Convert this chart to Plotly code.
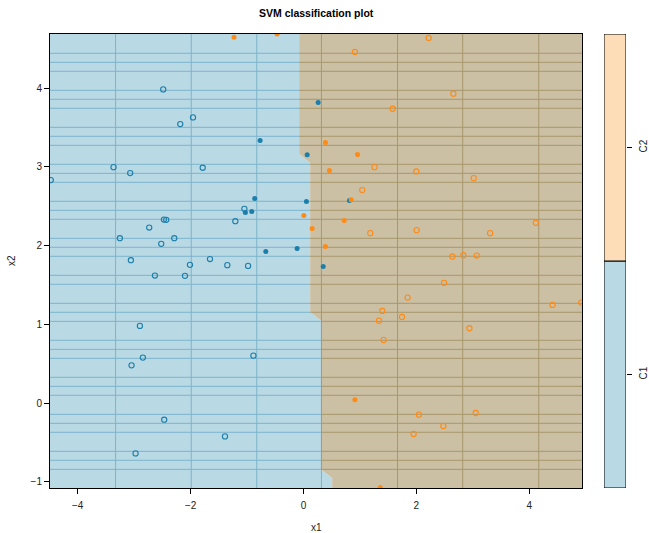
import numpy as np
import plotly.graph_objects as go

# ---- data -------------------------------------------------------------
# class C1: ordinary points and support vectors
c1_x = [-2.485, -1.957, -2.183, -3.365, -1.785, -3.070, -4.477, -1.047, -1.207,
        -2.472, -2.431, -2.733, -3.253, -2.289, -2.520, -3.058, -1.656, -2.011,
        -1.349, -0.981, -2.632, -2.099, -2.898, -2.845, -3.046, -0.887, -2.467,
        -1.390, -2.975]
c1_y = [3.986, 3.630, 3.545, 2.998, 2.990, 2.922, 2.833, 2.468, 2.311,
        2.332, 2.328, 2.230, 2.095, 2.095, 2.023, 1.815, 1.830, 1.756,
        1.752, 1.743, 1.620, 1.616, 0.980, 0.577, 0.479, 0.602, -0.212,
        -0.424, -0.640]
c1_sv_x = [0.261, -0.768, 0.066, -0.863, 0.053, -1.029, -0.916, -0.667, -0.112,
           0.816, 0.350]
c1_sv_y = [3.821, 3.337, 3.155, 2.599, 2.561, 2.421, 2.434, 1.925, 1.963,
           2.574, 1.734]

# class C2: ordinary points and support vectors
c2_x = [2.219, 0.912, 2.657, 1.580, 1.260, 2.000, 3.017, 1.042, 1.184, 2.006,
        3.307, 4.117, 2.639, 2.834, 3.070, 2.492, 1.846, 4.414, 4.923, 1.397,
        1.338, 1.746, 2.941, 1.420, 2.046, 3.052, 2.479, 1.952]
c2_y = [4.640, 4.462, 3.931, 3.740, 2.998, 2.943, 2.858, 2.706, 2.159, 2.197,
        2.159, 2.290, 1.862, 1.879, 1.874, 1.527, 1.340, 1.247, 1.276, 1.170,
        1.047, 1.094, 0.950, 0.802, -0.148, -0.127, -0.293, -0.394]
c2_sv_x = [-1.230, -0.467, 0.390, 0.958, 0.461, 0.846, 0.007, 0.722, 0.154,
           0.390, 0.912, 1.361]
c2_sv_y = [4.648, 4.690, 3.312, 3.159, 2.956, 2.585, 2.383, 2.319, 2.218,
           1.989, 0.042, -1.073]

# decision boundary of the fitted classifier (x as a function of x2)
boundary_y = [4.80, 3.165, 3.050, 1.157, 1.042, -0.852, -0.953, -1.20]
boundary_x = [-0.076, -0.076, 0.119, 0.119, 0.319, 0.319, 0.509, 0.509]

# grid seams of the filled contour
seam_x = [-3.329, -1.988, -0.827, 0.319, 1.668, 2.822, 4.170]
seam_y = [4.445, 4.330, 4.216, 3.974, 3.860, 3.746, 3.504, 3.390, 3.275,
          3.034, 2.919, 2.805, 2.564, 2.449, 2.335, 2.093, 1.979, 1.865,
          1.623, 1.509, 1.267, 1.153, 1.038, 0.797, 0.682, 0.568, 0.327,
          0.212, 0.098, -0.144, -0.258, -0.372, -0.614, -0.728, -0.843]

class_labels = ["C1", "C2"]

# ---- styling ----------------------------------------------------------
X_RANGE = [-4.491, 4.936]
Y_RANGE = [-1.080, 4.690]
X_LO, X_HI = -4.7, 5.1
Y_LO, Y_HI = boundary_y[-1], boundary_y[0]

BLUE_FILL = "#B9D9E5"
TAN_FILL = "#CBC0A4"
PEACH = "#FCDDB7"
BLUE_SEAM = "#7CB4CC"
TAN_SEAM = "#A8976B"
BLUE_PT = "#1A7FAA"
ORANGE_PT = "#FF8A14"
FONT = "Liberation Sans, Arial, sans-serif"

fig = go.Figure()

# ---- class regions ----------------------------------------------------
by = np.array(boundary_y)
bx = np.array(boundary_x)

fig.add_trace(go.Scatter(
    x=[X_LO] + list(bx) + [X_LO],
    y=[Y_HI] + list(by) + [Y_LO],
    mode="lines", fill="toself", fillcolor=BLUE_FILL,
    line=dict(width=0), hoverinfo="skip", showlegend=False))
fig.add_trace(go.Scatter(
    x=[X_HI] + list(bx) + [X_HI],
    y=[Y_HI] + list(by) + [Y_LO],
    mode="lines", fill="toself", fillcolor=TAN_FILL,
    line=dict(width=0), hoverinfo="skip", showlegend=False))


def bound_at(yv):
    return np.interp(yv, by[::-1], bx[::-1])


# ---- seams, coloured by the region they cross --------------------------
seg = {"blue": ([], []), "tan": ([], [])}
for yv in seam_y:
    b = float(bound_at(yv))
    seg["blue"][0].extend([X_LO, b, None]); seg["blue"][1].extend([yv, yv, None])
    seg["tan"][0].extend([b, X_HI, None]); seg["tan"][1].extend([yv, yv, None])

ys = np.linspace(Y_LO, Y_HI, 2400)
bs = bound_at(ys)
for xv in seam_x:
    in_blue = xv < bs - 1e-9
    start = 0
    for i in range(1, len(ys) + 1):
        if i == len(ys) or in_blue[i] != in_blue[start]:
            key = "blue" if in_blue[start] else "tan"
            seg[key][0].extend([xv, xv, None])
            seg[key][1].extend([ys[start], ys[i - 1], None])
            start = i

for key, col in (("blue", BLUE_SEAM), ("tan", TAN_SEAM)):
    fig.add_trace(go.Scatter(
        x=seg[key][0], y=seg[key][1], mode="lines",
        line=dict(color=col, width=1), hoverinfo="skip", showlegend=False))

# ---- observations -----------------------------------------------------
def pts(x, y, color, filled):
    return go.Scatter(
        x=x, y=y, mode="markers", showlegend=False,
        marker=dict(
            symbol="circle" if filled else "circle-open",
            size=5 if filled else 5.2,
            color=color,
            line=dict(width=0 if filled else 1.1, color=color)))


fig.add_trace(pts(c1_x, c1_y, BLUE_PT, False))
fig.add_trace(pts(c1_sv_x, c1_sv_y, BLUE_PT, True))
fig.add_trace(pts(c2_x, c2_y, ORANGE_PT, False))
fig.add_trace(pts(c2_sv_x, c2_sv_y, ORANGE_PT, True))

# ---- colour key -------------------------------------------------------
for i, (lab, col) in enumerate(zip(class_labels, [BLUE_FILL, PEACH])):
    fig.add_trace(go.Bar(
        x=[0], y=[1], base=[i], width=[1], xaxis="x2", yaxis="y2",
        marker=dict(color=col, line=dict(color="black", width=1)),
        hoverinfo="skip", showlegend=False))

# ---- layout -----------------------------------------------------------
W, H = 649, 533
ML, MR, MT, MB = 50, 0, 34, 45
PW = W - ML - MR
PH = H - MT - MB


def px_x(p):
    return (p - ML) / PW


def px_y(p):
    return (H - MB - p) / PH


axis_common = dict(
    showgrid=False, zeroline=False, showline=True, linecolor="black",
    linewidth=1, ticks="outside", ticklen=5, tickwidth=1, tickcolor="black",
    tickfont=dict(family=FONT, size=10, color="#222"))

fig.update_layout(
    width=W, height=H,
    margin=dict(l=ML, r=MR, t=MT, b=MB, pad=0),
    paper_bgcolor="white", plot_bgcolor="white",
    barmode="overlay",
    xaxis=dict(domain=[0, px_x(582)], range=X_RANGE, mirror=True,
               tickvals=[-4, -2, 0, 2, 4], ticklabelstandoff=3, **axis_common),
    yaxis=dict(range=Y_RANGE, mirror=True,
               tickvals=[-1, 0, 1, 2, 3, 4], **axis_common),
    xaxis2=dict(domain=[px_x(604), px_x(626)], range=[-0.5, 0.5],
                anchor="y2", showgrid=False, zeroline=False,
                showticklabels=False, showline=False, ticks=""),
    yaxis2=dict(anchor="x2", side="right", range=[0, 2],
                tickvals=[0.5, 1.5], ticktext=class_labels, tickangle=-90,
                showgrid=False, zeroline=False, showline=False,
                ticks="outside", ticklen=5, tickwidth=1, tickcolor="black",
                ticklabelstandoff=3,
                tickfont=dict(family=FONT, size=10, color="#222")),
    annotations=[
        dict(text="<b>SVM classification plot</b>", x=px_x(316), y=px_y(13),
             xref="paper", yref="paper", xanchor="center", yanchor="middle",
             showarrow=False,
             font=dict(family=FONT, size=10.5, color="black")),
        dict(text="x1", x=px_x(316), y=px_y(527), xref="paper", yref="paper",
             xanchor="center", yanchor="middle",
             showarrow=False, font=dict(family=FONT, size=10, color="#222")),
        dict(text="x2", x=px_x(11), y=px_y(261), xref="paper", yref="paper",
             xanchor="center", yanchor="middle",
             showarrow=False, textangle=-90,
             font=dict(family=FONT, size=10, color="#222")),
    ],
)

fig.write_html("out.html")
